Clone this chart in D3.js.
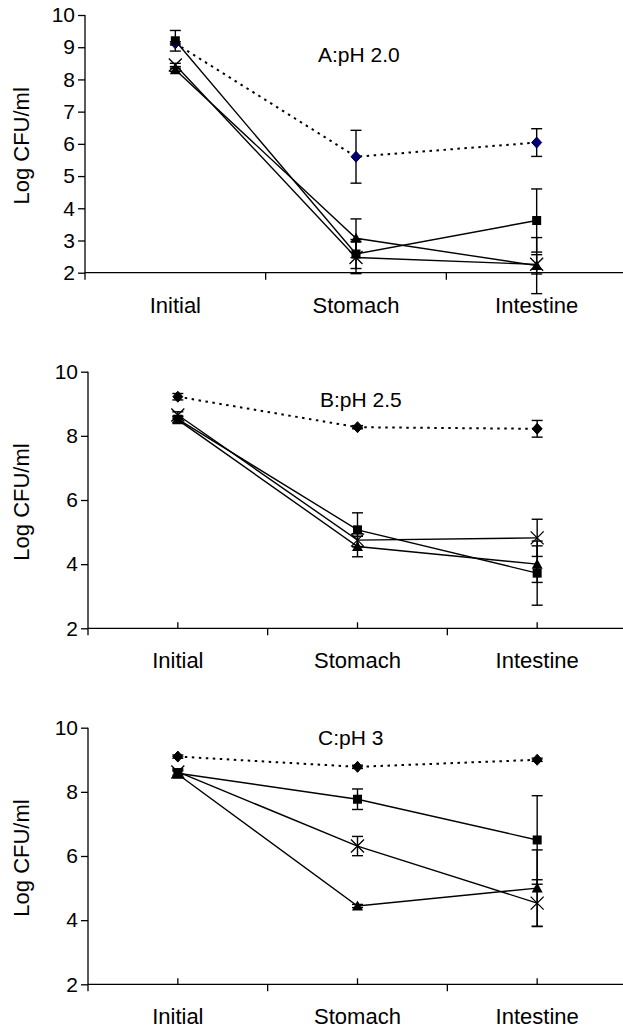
<!DOCTYPE html>
<html>
<head>
<meta charset="utf-8">
<script src="https://cdn.jsdelivr.net/npm/d3@7"></script>
<style>
  html, body { margin: 0; padding: 0; background: #fff; }
  svg { display: block; }
  text { font-family: "Liberation Sans", Arial, sans-serif; fill: #000; }
</style>
</head>
<body>
<svg id="chart" width="623" height="1030"></svg>
<script>
// Sampling points and panel titles
const categories = ["Initial", "Stomach", "Intestine"];
const panelTitles = ["A:pH 2.0", "B:pH 2.5", "C:pH 3"];
const yTicksA = [2, 3, 4, 5, 6, 7, 8, 9, 10];
const yTicksBC = [2, 4, 6, 8, 10];
const yLabel = "Log CFU/ml";

// Panel A (pH 2.0): means and standard deviations
const diamondA = [9.12, 5.60, 6.04];
const diamondErrA = [0.05, 0.82, 0.43];
const squareA = [9.20, 2.58, 3.62];
const squareErrA = [0.32, 0.45, 0.98];
const triangleA = [8.30, 3.07, 2.22];
const triangleErrA = [0.05, 0.60, 0.87];
const crossA = [8.45, 2.47, 2.26];
const crossErrA = [0.05, 0.50, 0.30];

// Panel B (pH 2.5)
const diamondB = [9.22, 8.27, 8.22];
const diamondErrB = [0.10, 0.05, 0.26];
const squareB = [8.52, 5.07, 3.72];
const squareErrB = [0.10, 0.53, 1.00];
const triangleB = [8.50, 4.55, 4.00];
const triangleErrB = [0.10, 0.32, 0.57];
const crossB = [8.65, 4.75, 4.82];
const crossErrB = [0.10, 0.20, 0.58];

// Panel C (pH 3)
const diamondC = [9.10, 8.78, 9.00];
const diamondErrC = [0.05, 0.05, 0.05];
const squareC = [8.58, 7.77, 6.50];
const squareErrC = [0.10, 0.32, 1.38];
const triangleC = [8.55, 4.44, 5.00];
const triangleErrC = [0.10, 0.05, 1.19];
const crossC = [8.62, 6.31, 4.53];
const crossErrC = [0.10, 0.30, 0.73];

const panels = [
  {
    title: panelTitles[0], ticks: yTicksA,
    x0: 85, top: 15, bottom: 272.7, titleX: 318, titleY: 62, centerMarks: false,
    diamondFill: "#00007c", diamondStroke: "#00003a",
    series: [
      { shape: "diamond", v: diamondA, e: diamondErrA },
      { shape: "square", v: squareA, e: squareErrA },
      { shape: "triangle", v: triangleA, e: triangleErrA },
      { shape: "cross", v: crossA, e: crossErrA }
    ]
  },
  {
    title: panelTitles[1], ticks: yTicksBC,
    x0: 88, top: 371.7, bottom: 628.3, titleX: 320, titleY: 407, centerMarks: true,
    diamondFill: "#000", diamondStroke: "#000",
    series: [
      { shape: "diamond", v: diamondB, e: diamondErrB },
      { shape: "square", v: squareB, e: squareErrB },
      { shape: "triangle", v: triangleB, e: triangleErrB },
      { shape: "cross", v: crossB, e: crossErrB }
    ]
  },
  {
    title: panelTitles[2], ticks: yTicksBC,
    x0: 88, top: 727.7, bottom: 984.3, titleX: 318, titleY: 745, centerMarks: true,
    diamondFill: "#000", diamondStroke: "#000",
    series: [
      { shape: "diamond", v: diamondC, e: diamondErrC },
      { shape: "square", v: squareC, e: squareErrC },
      { shape: "triangle", v: triangleC, e: triangleErrC },
      { shape: "cross", v: crossC, e: crossErrC }
    ]
  }
];

const svg = d3.select("#chart");
const xRight = 627;

panels.forEach(p => {
  const g = svg.append("g");
  const x = d3.scaleBand().domain(categories).range([p.x0, xRight]);
  const y = d3.scaleLinear().domain([2, 10]).range([p.bottom, p.top]);
  const cx = c => x(c) + x.bandwidth() / 2;

  // y axis
  const yAxis = d3.axisLeft(y).tickValues(p.ticks).tickSize(7).tickPadding(3)
    .tickFormat(d3.format("d"));
  const ya = g.append("g").attr("transform", `translate(${p.x0},0)`).call(yAxis);
  ya.select(".domain").remove();
  ya.selectAll("line").attr("stroke", "#000").attr("stroke-width", 1.3);
  ya.selectAll("text").style("font-size", "21px").attr("fill", "#000")
    .style("font-family", '"Liberation Sans", Arial, sans-serif');
  g.append("line")
    .attr("x1", p.x0).attr("x2", p.x0)
    .attr("y1", p.top).attr("y2", p.bottom + 7)
    .attr("stroke", "#000").attr("stroke-width", 1.3);

  // x axis: ticks sit between categories
  g.append("line")
    .attr("x1", p.x0).attr("x2", xRight)
    .attr("y1", p.bottom).attr("y2", p.bottom)
    .attr("stroke", "#000").attr("stroke-width", 1.3);
  categories.slice(1).forEach(c => {
    g.append("line")
      .attr("x1", x(c)).attr("x2", x(c))
      .attr("y1", p.bottom).attr("y2", p.bottom + 7)
      .attr("stroke", "#000").attr("stroke-width", 1.3);
  });
  if (p.centerMarks) {
    categories.forEach(c => {
      g.append("line")
        .attr("x1", cx(c)).attr("x2", cx(c))
        .attr("y1", p.bottom - 6).attr("y2", p.bottom)
        .attr("stroke", "#000").attr("stroke-width", 1.3);
    });
  }
  g.selectAll("text.cat").data(categories).join("text")
    .attr("class", "cat")
    .attr("x", d => cx(d))
    .attr("y", p.bottom + 40)
    .attr("text-anchor", "middle")
    .style("font-size", "22px")
    .text(d => d);

  // y label
  g.append("text")
    .attr("transform", `translate(29,${(p.top + p.bottom) / 2 + 2}) rotate(-90)`)
    .attr("text-anchor", "middle")
    .style("font-size", "22px")
    .text(yLabel);

  // title
  g.append("text")
    .attr("x", p.titleX).attr("y", p.titleY)
    .style("font-size", "21px")
    .text(p.title);

  // error bars
  p.series.forEach(s => {
    s.v.forEach((v, i) => {
      const xc = cx(categories[i]);
      const y1 = y(v + s.e[i]), y2 = y(v - s.e[i]);
      const eb = g.append("g").attr("stroke", "#000").attr("stroke-width", 1.4);
      eb.append("line").attr("x1", xc).attr("x2", xc).attr("y1", y1).attr("y2", y2);
      eb.append("line").attr("x1", xc - 5.5).attr("x2", xc + 5.5).attr("y1", y1).attr("y2", y1);
      eb.append("line").attr("x1", xc - 5.5).attr("x2", xc + 5.5).attr("y1", y2).attr("y2", y2);
    });
  });

  // lines
  const line = d3.line().x((d, i) => cx(categories[i])).y(d => y(d));
  p.series.forEach(s => {
    const path = g.append("path").datum(s.v)
      .attr("d", line)
      .attr("fill", "none")
      .attr("stroke", "#000");
    if (s.shape === "diamond") {
      path.attr("stroke-width", 2).attr("stroke-dasharray", "2.5,4.5");
    } else {
      path.attr("stroke-width", 1.4);
    }
  });

  // markers
  p.series.forEach(s => {
    s.v.forEach((v, i) => {
      const xc = cx(categories[i]), yc = y(v);
      if (s.shape === "diamond") {
        g.append("path")
          .attr("d", `M${xc},${yc - 5.5}L${xc + 5},${yc}L${xc},${yc + 5.5}L${xc - 5},${yc}Z`)
          .attr("fill", p.diamondFill).attr("stroke", p.diamondStroke).attr("stroke-width", 1);
      } else if (s.shape === "square") {
        g.append("rect")
          .attr("x", xc - 4.5).attr("y", yc - 4.5).attr("width", 9).attr("height", 9)
          .attr("fill", "#000");
      } else if (s.shape === "triangle") {
        g.append("path")
          .attr("d", `M${xc},${yc - 5.5}L${xc + 5.5},${yc + 4.5}L${xc - 5.5},${yc + 4.5}Z`)
          .attr("fill", "#000");
      } else {
        g.append("path")
          .attr("d", `M${xc - 6.5},${yc - 6.5}L${xc + 6.5},${yc + 6.5}M${xc - 6.5},${yc + 6.5}L${xc + 6.5},${yc - 6.5}`)
          .attr("stroke", "#000").attr("stroke-width", 1.3).attr("fill", "none");
      }
    });
  });
});
</script>
</body>
</html>
